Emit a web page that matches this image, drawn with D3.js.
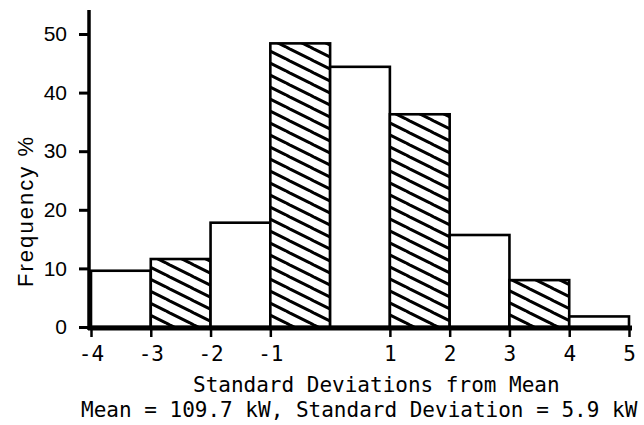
<!DOCTYPE html>
<html>
<head>
<meta charset="utf-8">
<script src="https://cdn.jsdelivr.net/npm/d3@7"></script>
<style>
  body { margin: 0; background: #fff; }
  svg { display: block; }
</style>
</head>
<body>
<svg id="chart" width="644" height="425"></svg>
<script>
/* histogram data */
var binStarts = [-4, -3, -2, -1, 0, 1, 2, 3, 4];
var binWidth = 1;
var freq = [9.6, 11.6, 17.8, 48.4, 44.4, 36.3, 15.7, 8.0, 1.8];
var hatched = [false, true, false, true, false, true, false, true, false];

var xTicks = [-4, -3, -2, -1, 1, 2, 3, 4, 5];
var yTicks = [0, 10, 20, 30, 40, 50];

var xTitle = "Standard Deviations from Mean";
var subTitle = "Mean = 109.7 kW, Standard Deviation = 5.9 kW";
var yTitle = "Frequency %";

var svg = d3.select("#chart");

var x = d3.scaleLinear().domain([-4, 5]).range([91, 629]);
var y = d3.scaleLinear().domain([0, 50]).range([327, 34]);

/* hatch pattern: lines running down to the right */
var defs = svg.append("defs");
var pat = defs.append("pattern")
  .attr("id", "hatch")
  .attr("patternUnits", "userSpaceOnUse")
  .attr("width", 24)
  .attr("height", 12);
pat.append("rect").attr("width", 24).attr("height", 12).attr("fill", "#fff");
pat.append("path")
  .attr("d", "M-2,-1L26,13M-2,11L2,13M22,-1L26,1")
  .attr("stroke", "#000")
  .attr("stroke-width", 3);

/* bars */
svg.append("g").selectAll("rect")
  .data(binStarts)
  .join("rect")
  .attr("x", function(d) { return x(d); })
  .attr("y", function(d, i) { return y(freq[i]); })
  .attr("width", function(d) { return x(d + binWidth) - x(d); })
  .attr("height", function(d, i) { return y(0) - y(freq[i]); })
  .attr("fill", function(d, i) { return hatched[i] ? "url(#hatch)" : "#fff"; })
  .attr("stroke", "#000")
  .attr("stroke-width", 2.6);

/* x axis */
var xAxis = svg.append("g")
  .attr("transform", "translate(0,328)")
  .call(d3.axisBottom(x).tickValues(xTicks).tickSize(9).tickPadding(9)
    .tickFormat(function(d) { return d; }));
xAxis.select(".domain").remove();
xAxis.selectAll(".tick line").attr("stroke", "#000").attr("stroke-width", 2.5);
xAxis.selectAll(".tick text")
  .attr("fill", "#000")
  .style("font-family", "'DejaVu Sans Mono', monospace")
  .style("font-size", "21px");

/* y axis */
var yAxis = svg.append("g")
  .attr("transform", "translate(89,0)")
  .call(d3.axisLeft(y).tickValues(yTicks).tickSize(10).tickPadding(12));
yAxis.select(".domain").remove();
yAxis.selectAll(".tick line").attr("stroke", "#000").attr("stroke-width", 3);
yAxis.selectAll(".tick text")
  .attr("fill", "#000")
  .style("font-family", "'Liberation Sans', Arial, sans-serif")
  .style("font-size", "21px");

/* heavy axis lines */
svg.append("line")
  .attr("x1", 89).attr("x2", 89)
  .attr("y1", 10).attr("y2", 330)
  .attr("stroke", "#000").attr("stroke-width", 3.5);
svg.append("line")
  .attr("x1", 88).attr("x2", x(5) + 3)
  .attr("y1", 328).attr("y2", 328)
  .attr("stroke", "#000").attr("stroke-width", 5);

/* titles */
svg.append("text")
  .attr("transform", "translate(33,212) rotate(-90)")
  .attr("text-anchor", "middle")
  .attr("textLength", 150)
  .attr("lengthAdjust", "spacing")
  .style("font-family", "'Liberation Sans', Arial, sans-serif")
  .style("font-size", "22px")
  .text(yTitle);

svg.append("text")
  .attr("x", 193).attr("y", 392)
  .style("font-family", "'DejaVu Sans Mono', monospace")
  .style("font-size", "21px")
  .text(xTitle);

svg.append("text")
  .attr("x", 81).attr("y", 417)
  .style("font-family", "'DejaVu Sans Mono', monospace")
  .style("font-size", "21px")
  .text(subTitle);
</script>
</body>
</html>
